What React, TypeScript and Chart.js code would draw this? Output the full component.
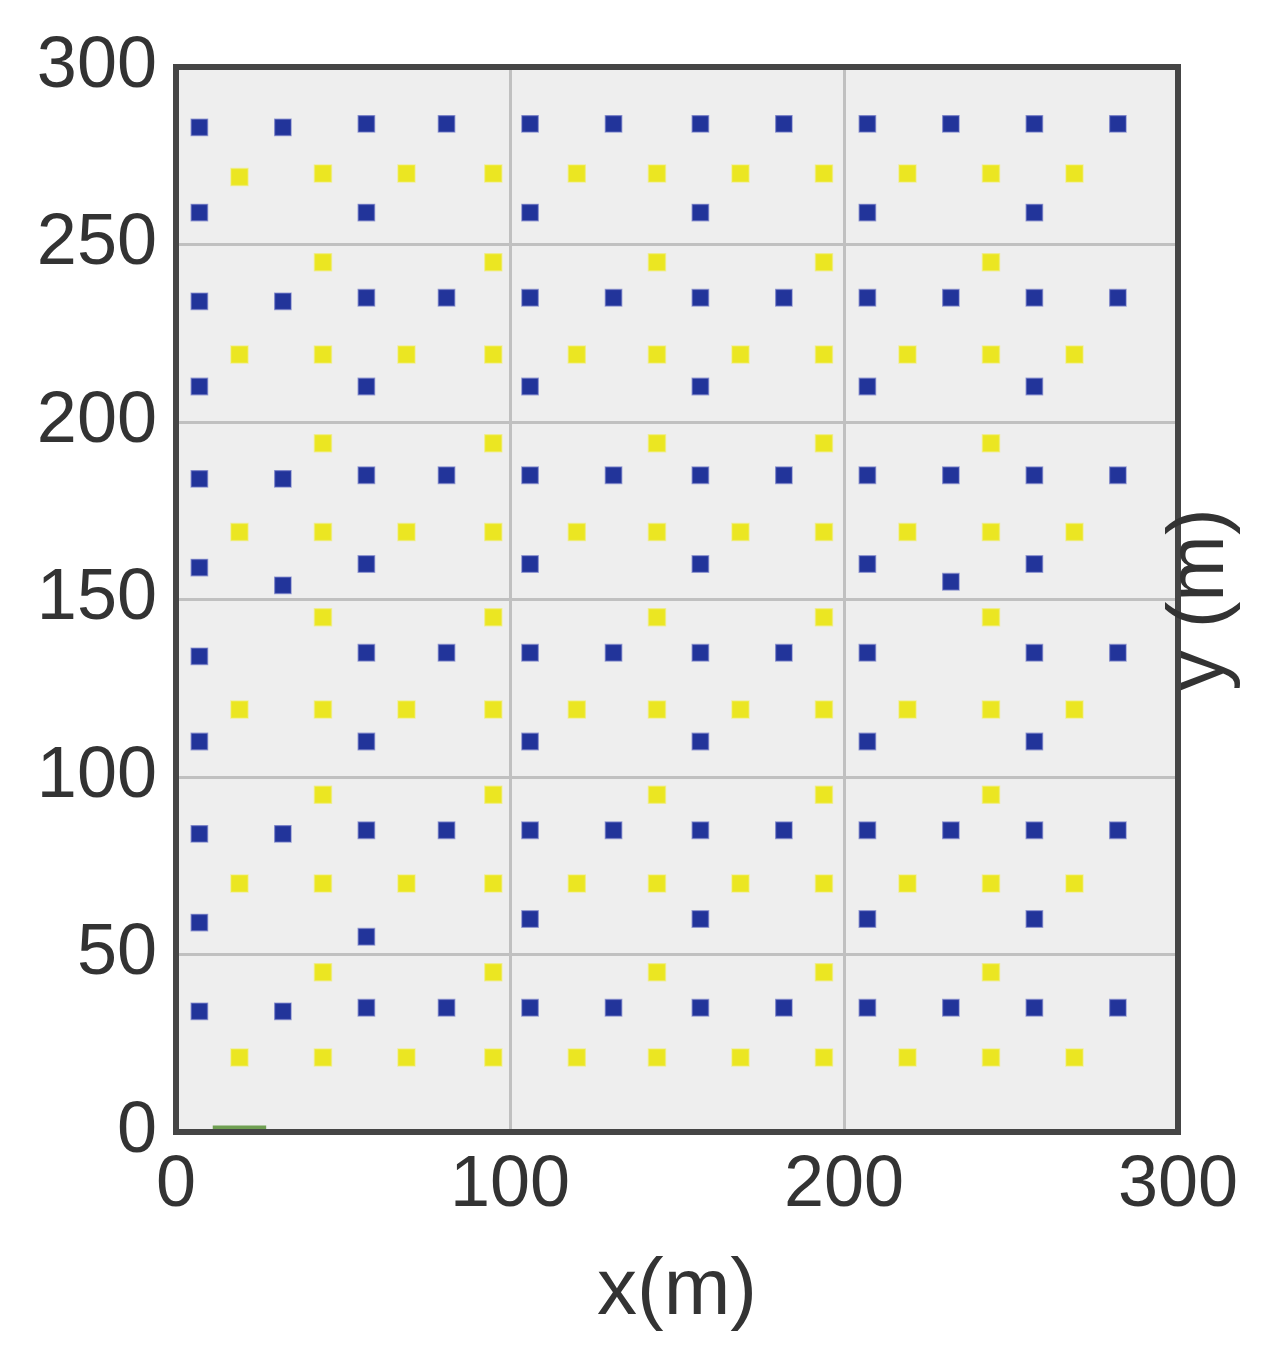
import React, { useEffect, useRef } from "react";
import { Chart, registerables } from "chart.js";

Chart.register(...registerables);

// Axis ticks
const xTicks = [0, 100, 200, 300];
const yTicks = [0, 50, 100, 150, 200, 250, 300];

// Blue points (x, y)
const blueX = [
  7, 32, 57, 81, 106, 131, 157, 182, 207, 232, 257, 282,
  7, 57, 106, 157, 207, 257,
  7, 32, 57, 81, 106, 131, 157, 182, 207, 232, 257, 282,
  7, 57, 106, 157, 207, 257,
  7, 32, 57, 81, 106, 131, 157, 182, 207, 232, 257, 282,
  7, 32, 57, 106, 157, 207, 232, 257,
  7, 57, 81, 106, 131, 157, 182, 207, 257, 282,
  7, 57, 106, 157, 207, 257,
  7, 32, 57, 81, 106, 131, 157, 182, 207, 232, 257, 282,
  7, 57, 106, 157, 207, 257,
  7, 32, 57, 81, 106, 131, 157, 182, 207, 232, 257, 282,
];
const blueY = [
  283, 283, 284, 284, 284, 284, 284, 284, 284, 284, 284, 284,
  259, 259, 259, 259, 259, 259,
  234, 234, 235, 235, 235, 235, 235, 235, 235, 235, 235, 235,
  210, 210, 210, 210, 210, 210,
  184, 184, 185, 185, 185, 185, 185, 185, 185, 185, 185, 185,
  159, 154, 160, 160, 160, 160, 155, 160,
  134, 135, 135, 135, 135, 135, 135, 135, 135, 135,
  110, 110, 110, 110, 110, 110,
  84, 84, 85, 85, 85, 85, 85, 85, 85, 85, 85, 85,
  59, 55, 60, 60, 60, 60,
  34, 34, 35, 35, 35, 35, 35, 35, 35, 35, 35, 35,
];

// Yellow points (x, y)
const yellowX = [
  19, 44, 69, 95, 120, 144, 169, 194, 219, 244, 269,
  44, 95, 144, 194, 244,
  19, 44, 69, 95, 120, 144, 169, 194, 219, 244, 269,
  44, 95, 144, 194, 244,
  19, 44, 69, 95, 120, 144, 169, 194, 219, 244, 269,
  44, 95, 144, 194, 244,
  19, 44, 69, 95, 120, 144, 169, 194, 219, 244, 269,
  44, 95, 144, 194, 244,
  19, 44, 69, 95, 120, 144, 169, 194, 219, 244, 269,
  44, 95, 144, 194, 244,
  19, 44, 69, 95, 120, 144, 169, 194, 219, 244, 269,
];
const yellowY = [
  269, 270, 270, 270, 270, 270, 270, 270, 270, 270, 270,
  245, 245, 245, 245, 245,
  219, 219, 219, 219, 219, 219, 219, 219, 219, 219, 219,
  194, 194, 194, 194, 194,
  169, 169, 169, 169, 169, 169, 169, 169, 169, 169, 169,
  145, 145, 145, 145, 145,
  119, 119, 119, 119, 119, 119, 119, 119, 119, 119, 119,
  95, 95, 95, 95, 95,
  70, 70, 70, 70, 70, 70, 70, 70, 70, 70, 70,
  45, 45, 45, 45, 45,
  21, 21, 21, 21, 21, 21, 21, 21, 21, 21, 21,
];

// Small green segment near the origin
const greenX = [11, 27];
const greenY = [1, 1];

const xTitle = "x(m)";
const yTitle = "y (m)";

const FONT = "'Liberation Sans', Arial, Helvetica, sans-serif";

export default function App() {
  const canvasRef = useRef<HTMLCanvasElement | null>(null);

  useEffect(() => {
    if (!canvasRef.current) return;

    const toPts = (xs: number[], ys: number[]) => xs.map((x, i) => ({ x, y: ys[i] }));

    const framePlugin = {
      id: "framePlugin",
      beforeDraw(chart: any) {
        const { ctx, chartArea } = chart;
        ctx.save();
        ctx.fillStyle = "#ffffff";
        ctx.fillRect(0, 0, chart.width, chart.height);
        ctx.fillStyle = "#eeeeee";
        ctx.fillRect(chartArea.left, chartArea.top, chartArea.right - chartArea.left, chartArea.bottom - chartArea.top);
        ctx.restore();
      },
      afterDraw(chart: any) {
        const { ctx, chartArea } = chart;
        ctx.save();
        ctx.strokeStyle = "#454545";
        ctx.lineWidth = 6;
        ctx.strokeRect(chartArea.left, chartArea.top, chartArea.right - chartArea.left, chartArea.bottom - chartArea.top);
        ctx.fillStyle = "#333333";
        ctx.font = `80px ${FONT}`;
        ctx.textAlign = "center";
        ctx.textBaseline = "middle";
        ctx.fillText(xTitle, (chartArea.left + chartArea.right) / 2, chartArea.bottom + 160);
        ctx.translate(chartArea.right + 45, (chartArea.top + chartArea.bottom) / 2);
        ctx.rotate(-Math.PI / 2);
        ctx.textBaseline = "alphabetic";
        ctx.fillText(yTitle, 0, 0);
        ctx.restore();
      },
    };

    const chart = new Chart(canvasRef.current, {
      type: "scatter",
      data: {
        datasets: [
          {
            type: "line",
            label: "green",
            data: toPts(greenX, greenY),
            borderColor: "#6f9f52",
            borderWidth: 6,
            pointRadius: 0,
            showLine: true,
          } as any,
          {
            label: "blue",
            data: toPts(blueX, blueY),
            pointStyle: "rect",
            pointRadius: 11.5,
            backgroundColor: "#22349a",
            borderColor: "rgba(90,100,190,0.55)",
            borderWidth: 1.5,
          },
          {
            label: "yellow",
            data: toPts(yellowX, yellowY),
            pointStyle: "rect",
            pointRadius: 12,
            backgroundColor: "#ebe622",
            borderColor: "rgba(240,236,100,0.55)",
            borderWidth: 1.5,
          },
        ],
      },
      options: {
        animation: false,
        responsive: true,
        maintainAspectRatio: false,
        layout: { padding: { left: 0, top: 67, right: 100, bottom: 0 } },
        plugins: {
          legend: { display: false },
          tooltip: { enabled: false },
        },
        scales: {
          x: {
            type: "linear",
            min: 0,
            max: 300,
            afterFit(scale: any) {
              scale.height = 234;
            },
            afterBuildTicks(scale: any) {
              scale.ticks = xTicks.map((v) => ({ value: v }));
            },
            border: { display: false },
            grid: { color: "#c0c0c0", lineWidth: 3, drawTicks: false },
            ticks: {
              padding: 11,
              color: "#333333",
              font: { family: FONT, size: 72 },
              maxRotation: 0,
            },
          },
          y: {
            type: "linear",
            min: 0,
            max: 300,
            afterFit(scale: any) {
              scale.width = 176;
            },
            afterBuildTicks(scale: any) {
              scale.ticks = yTicks.map((v) => ({ value: v }));
            },
            border: { display: false },
            grid: { color: "#c0c0c0", lineWidth: 3, drawTicks: false },
            ticks: {
              padding: 19,
              color: "#333333",
              font: { family: FONT, size: 72 },
            },
          },
        },
      },
      plugins: [framePlugin],
    });

    return () => chart.destroy();
  }, []);

  return (
    <div style={{ position: "absolute", left: 0, top: 0, width: 1278, height: 1366 }}>
      <canvas ref={canvasRef} />
    </div>
  );
}
